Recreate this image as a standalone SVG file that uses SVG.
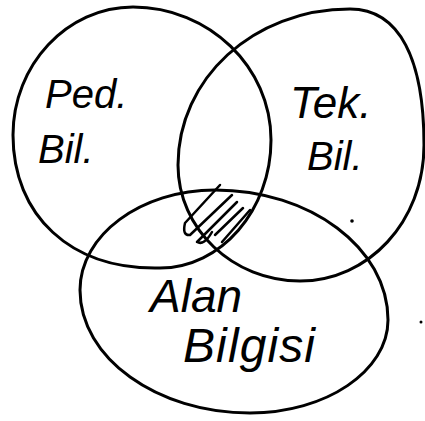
<svg xmlns="http://www.w3.org/2000/svg" width="425" height="421" viewBox="0 0 425 421">
<style>
.set{fill:none;stroke:#000;stroke-width:3;stroke-linecap:round;stroke-linejoin:round}
.hatch{fill:none;stroke:#000;stroke-width:2.5;stroke-linecap:round;stroke-linejoin:round}
.lbl{font-family:"Liberation Sans","DejaVu Sans",sans-serif;font-style:italic;fill:#000}
</style>
<rect width="425" height="421" fill="#fff"/>
<g id="ped-bil">
<path class="set" d="M133,7 C209,7 271,67 271,140 C271,210 221,268 160,268 C70,270 13,215 13,135 C13,65 67,7 133,7 Z"/>
<text class="lbl" x="45" y="108" font-size="40">Ped.</text>
<text class="lbl" x="38" y="163" font-size="40">Bil.</text>
</g>
<g id="tek-bil">
<path class="set" d="M350,9 C400,9 424,60 424,145 C424,222 368,281 300,281 C233,281 178,229 178,165 C178,79 253,9 350,9 Z"/>
<text class="lbl" x="290" y="118" font-size="44">Tek.</text>
<text class="lbl" x="307" y="170" font-size="40">Bil.</text>
</g>
<g id="alan-bilgisi">
<path class="set" d="M215,190 C310,190 388,248 388,320 C388,371 326,413 250,413 C157,413 80,358 80,290 C80,235 141,190 215,190 Z"/>
<text class="lbl" x="150" y="312" font-size="46">Alan</text>
<text class="lbl" x="183" y="362" font-size="48" textLength="132">Bilgisi</text>
</g>
<g id="connectors">
<path class="hatch" d="M220,185 L185,223 Q182,236 190,235 L232,195 M237,202 L197,242 Q204,246 212,232 M243,208 L215,235 M250,210 L222,242"/>
<circle cx="352" cy="221" r="1.8" fill="#000"/>
<circle cx="421" cy="322" r="1.5" fill="#000"/>
</g>
</svg>
